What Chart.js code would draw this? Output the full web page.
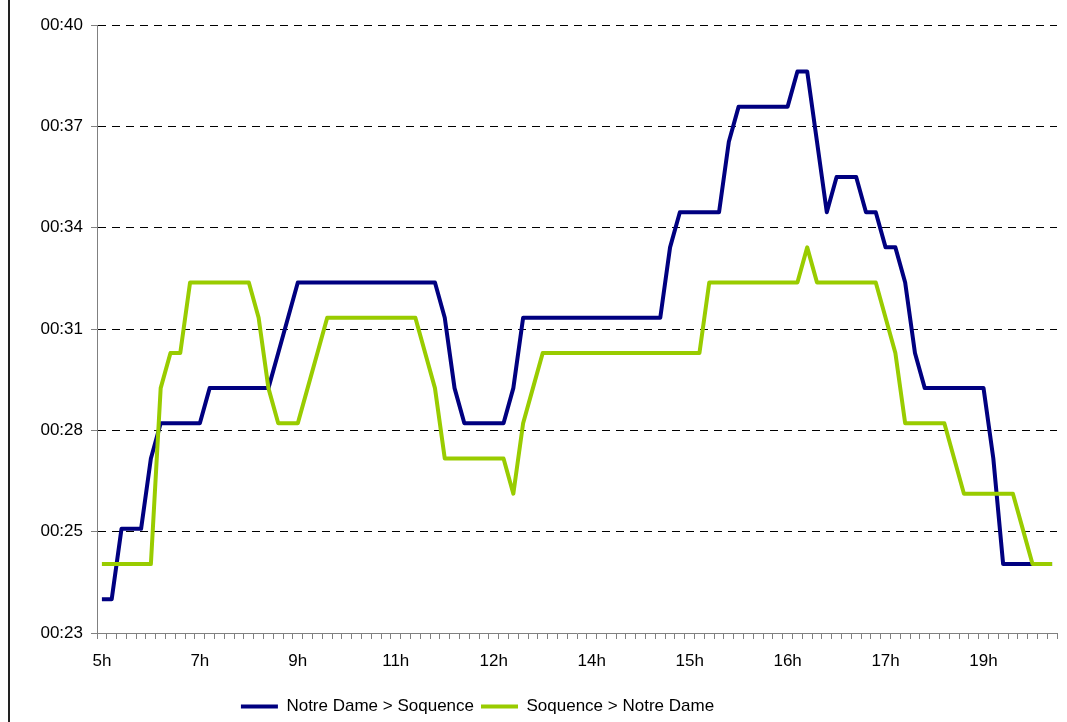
<!DOCTYPE html>
<html>
<head>
<meta charset="utf-8">
<script src="https://cdn.jsdelivr.net/npm/chart.js@4.4.0/dist/chart.umd.min.js"></script>
<style>
  html, body { margin: 0; padding: 0; background: #fff; }
  #wrap { position: relative; width: 1067px; height: 722px; }
  #frame { position: absolute; left: 8px; top: 0; width: 2px; height: 722px; background: #222; }
  canvas { position: absolute; left: 0; top: 0; }
</style>
</head>
<body>
<div id="wrap">
  <canvas id="chart" width="1067" height="722"></canvas>
  <div id="frame"></div>
</div>
<script>
// x axis: 98 time slots, one label every 10 slots
var tickLabels = ['5h', '7h', '9h', '11h', '12h', '14h', '15h', '16h', '17h', '19h']
var labelEvery = 10
var slotCount = 98

// travel times in minutes
var notreDameToSoquence = [
  24, 24, 26, 26, 26, 28, 29, 29, 29, 29, 29, 30, 30, 30, 30, 30, 30, 30, 31, 32,
  33, 33, 33, 33, 33, 33, 33, 33, 33, 33, 33, 33, 33, 33, 33, 32, 30, 29, 29, 29,
  29, 29, 30, 32, 32, 32, 32, 32, 32, 32, 32, 32, 32, 32, 32, 32, 32, 32, 34, 35,
  35, 35, 35, 35, 37, 38, 38, 38, 38, 38, 38, 39, 39, 37, 35, 36, 36, 36, 35, 35,
  34, 34, 33, 31, 30, 30, 30, 30, 30, 30, 30, 28, 25, 25, 25, 25, 25, 25
]
var soquenceToNotreDame = [
  25, 25, 25, 25, 25, 25, 30, 31, 31, 33, 33, 33, 33, 33, 33, 33, 32, 30, 29, 29,
  29, 30, 31, 32, 32, 32, 32, 32, 32, 32, 32, 32, 32, 31, 30, 28, 28, 28, 28, 28,
  28, 28, 27, 29, 30, 31, 31, 31, 31, 31, 31, 31, 31, 31, 31, 31, 31, 31, 31, 31,
  31, 31, 33, 33, 33, 33, 33, 33, 33, 33, 33, 33, 34, 33, 33, 33, 33, 33, 33, 33,
  32, 31, 29, 29, 29, 29, 29, 28, 27, 27, 27, 27, 27, 27, 26, 25, 25, 25
]

// y axis ticks in minutes (0.016 to 0.028 day, step 0.002)
var yTickValues = [23.04, 25.92, 28.8, 31.68, 34.56, 37.44, 40.32]

var categories = []
for (var i = 0; i < slotCount; i++) {
  categories.push(i % labelEvery === 0 ? tickLabels[i / labelEvery] : '')
}

Chart.defaults.font.family = "'Liberation Sans', Arial, sans-serif"
Chart.defaults.font.size = 17
Chart.defaults.color = '#000'

// the legend sits left of the canvas centre in the original
var moveLegend = {
  id: 'moveLegend',
  afterLayout: function(chart) {
    var lg = chart.legend
    var dx = 477.5 - (lg.left + lg.right) / 2
    lg.left += dx
    lg.right += dx
    lg.top += 3
    lg.bottom += 3
  }
}

var chart = new Chart(document.getElementById('chart'), {
  type: 'line',
  data: {
    labels: categories,
    datasets: [{
      label: 'Notre Dame > Soquence',
      data: notreDameToSoquence,
      borderColor: '#000080',
      backgroundColor: '#000080',
      borderWidth: 4,
      pointRadius: 0,
      tension: 0,
      borderJoinStyle: 'round',
      order: 1
    }, {
      label: 'Soquence > Notre Dame',
      data: soquenceToNotreDame,
      borderColor: '#99cc00',
      backgroundColor: '#99cc00',
      borderWidth: 4,
      pointRadius: 0,
      tension: 0,
      borderJoinStyle: 'round',
      order: 0
    }]
  },
  options: {
    responsive: false,
    animation: false,
    layout: { padding: { top: 25, right: 10, left: 0, bottom: 0 } },
    plugins: {
      tooltip: { enabled: false },
      legend: {
        position: 'bottom',
        labels: {
          boxWidth: 37,
          boxHeight: 4,
          padding: 7,
          sort: function(a, b) { return a.datasetIndex - b.datasetIndex },
          generateLabels: function(chart) {
            return Chart.defaults.plugins.legend.labels.generateLabels(chart).map(function(l) {
              l.lineWidth = 0
              return l
            })
          }
        }
      }
    },
    scales: {
      x: {
        offset: true,
        grid: { offset: true, drawOnChartArea: false, color: '#808080', tickLength: 6 },
        border: { color: '#808080' },
        ticks: { autoSkip: false, maxRotation: 0, padding: 12 },
        afterFit: function(scale) { scale.height = 55 }
      },
      y: {
        min: yTickValues[0],
        max: yTickValues[yTickValues.length - 1],
        afterBuildTicks: function(scale) {
          scale.ticks = yTickValues.map(function(v) { return { value: v } })
        },
        afterFit: function(scale) { scale.width = 97 },
        grid: {
          color: function(c) { return c.index === 0 ? 'rgba(0,0,0,0)' : '#000' },
          tickColor: '#808080',
          tickLength: 6
        },
        border: { color: '#808080', dash: [8, 6] },
        ticks: {
          padding: 8,
          callback: function(v) {
            var m = Math.floor(v + 1e-6)
            return '00:' + (m < 10 ? '0' : '') + m
          }
        }
      }
    }
  },
  plugins: [moveLegend]
})
</script>
</body>
</html>
